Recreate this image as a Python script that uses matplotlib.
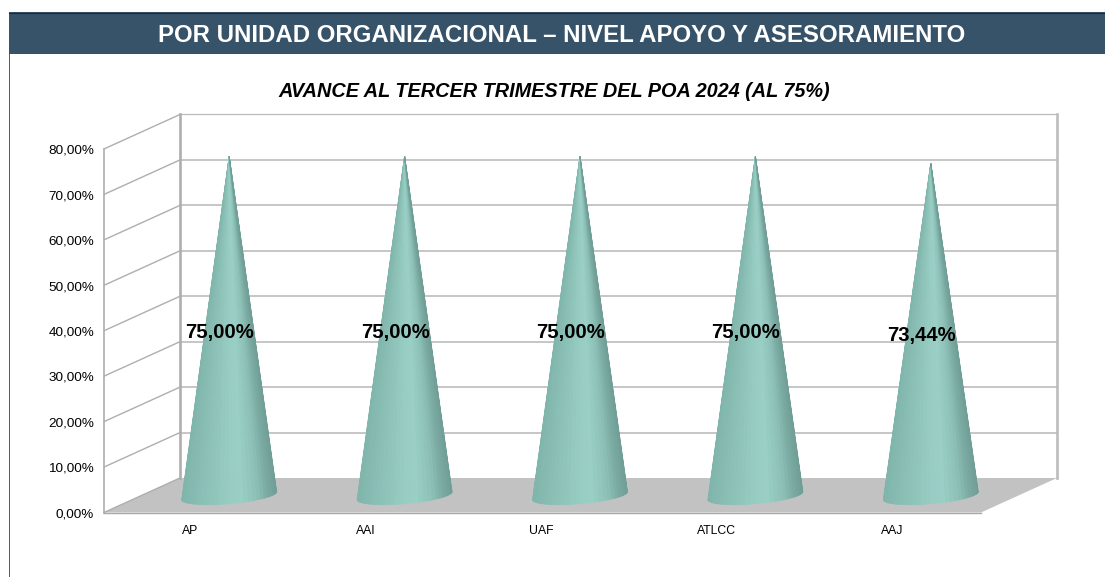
import numpy as np
import matplotlib
matplotlib.use("Agg")
import matplotlib.pyplot as plt
from matplotlib.colors import LinearSegmentedColormap
from matplotlib.patches import Rectangle

categories = ["AP", "AAI", "UAF", "ATLCC", "AAJ"]
values = [75.00, 75.00, 75.00, 75.00, 73.44]
value_labels = ["75,00%", "75,00%", "75,00%", "75,00%", "73,44%"]
y_ticks = [0, 10, 20, 30, 40, 50, 60, 70, 80]
y_tick_labels = ["0,00%", "10,00%", "20,00%", "30,00%", "40,00%", "50,00%", "60,00%", "70,00%", "80,00%"]

W, H = 1105, 577
# pixels per unit of the front plane of the 3D box
PX_X = 175.4
PX_Y = 4.544
LEFT = 104
BASE = 512.5
# depth of the box, in data units
DX = 76 / PX_X
DY = 34.5 / PX_Y

plt.rcParams["font.family"] = ["Liberation Sans", "DejaVu Sans"]

fig = plt.figure(figsize=(W / 100, H / 100), dpi=100)
ax = fig.add_axes([0, 0, 1, 1])
ax.set_xlim(-LEFT / PX_X, (W - LEFT) / PX_X)
ax.set_ylim(-(H - BASE) / PX_Y, BASE / PX_Y)
ax.axis("off")

# header band and left border
fig.patches.append(Rectangle((9 / W, 1 - 54 / H), (W - 9) / W, 42 / H, transform=fig.transFigure,
                             facecolor="#375369", edgecolor="none", zorder=0))
fig.add_artist(plt.Line2D([9 / W, 1], [1 - 12.5 / H, 1 - 12.5 / H], color="#1c2a35", lw=0.8))
fig.add_artist(plt.Line2D([9 / W, 9 / W], [0, 1 - 54 / H], color="#555555", lw=0.7))
fig.text(561.5 / W, 1 - 35.5 / H, "POR UNIDAD ORGANIZACIONAL – NIVEL APOYO Y ASESORAMIENTO",
         color="white", fontsize=17.25, fontweight="bold", ha="center", va="center")
fig.text(554 / W, 1 - 91.5 / H, "AVANCE AL TERCER TRIMESTRE DEL POA 2024 (AL 75%)",
         color="black", fontsize=14.35, fontweight="bold", style="italic", ha="center", va="center")

n = len(categories)
grid = "#bcbcbc"

# floor
ax.fill([0, n, n + DX, DX], [0, 0, DY, DY], color="#c2c2c2", lw=0, zorder=1)
ax.plot([0, n], [0, 0], color="#a8a8a8", lw=1.0, zorder=1)

# walls
for t in y_ticks:
    if t > 0:
        ax.plot([DX, n + DX], [t + DY, t + DY], color=grid, lw=1.2 if t < 80 else 0.9, zorder=1)
    ax.plot([0, DX], [t, t + DY], color="#aeaeae", lw=1.0, zorder=1)
ax.plot([0, 0], [0, 80], color="#aeaeae", lw=1.2, zorder=1)
ax.plot([DX, DX], [DY, 80 + DY], color="#aeaeae", lw=1.9, zorder=1)
ax.plot([n + DX, n + DX], [DY, 80 + DY], color=grid, lw=1.9, zorder=1)

# cones, drawn as facets with a side lit shading
shade = LinearSegmentedColormap.from_list("cone", [
    (0.0, "#80b5ac"), (0.15, "#87bcb3"), (0.4, "#93c8bf"), (0.62, "#9bd0c7"),
    (0.8, "#8dc1b8"), (0.92, "#79a9a1"), (1.0, "#709f97")])
half_w = 47.5 / PX_X
half_h = 8.0 / PX_Y
tilt = 4.0 / PX_Y
steps = 30
angles = np.linspace(np.pi, 2 * np.pi, steps + 1)

for i, (v, lab) in enumerate(zip(values, value_labels)):
    cx = i + 0.5 + DX / 2 - 0.5 / PX_X
    cy = DY / 2 - 0.1
    top = cy + v * 0.995
    bx = cx + half_w * np.cos(angles)
    by = cy + half_h * np.sin(angles) + tilt * np.cos(angles)
    for k in range(steps):
        pos = (bx[k] + bx[k + 1]) / 2
        col = shade((pos - cx + half_w) / (2 * half_w))
        ax.fill([cx, bx[k], bx[k + 1]], [top, by[k], by[k + 1]], facecolor=col, edgecolor=col,
                lw=0.6, zorder=3)
    ax.text(i + 0.5 + 0.16, v / 2 + 2.2, lab, fontsize=14.6, fontweight="bold", color="black",
            ha="center", va="center", zorder=5)
    ax.text(i + 0.5 - 1.5 / PX_X, -4.1, categories[i], fontsize=8.8, color="black",
            ha="center", va="center", zorder=5)

# y axis labels
for t, lab in zip(y_ticks, y_tick_labels):
    ax.text(-10 / PX_X, t - 0.4, lab, fontsize=9.7, color="black", ha="right", va="center")

fig.savefig("out.png", dpi=100, facecolor="white")
